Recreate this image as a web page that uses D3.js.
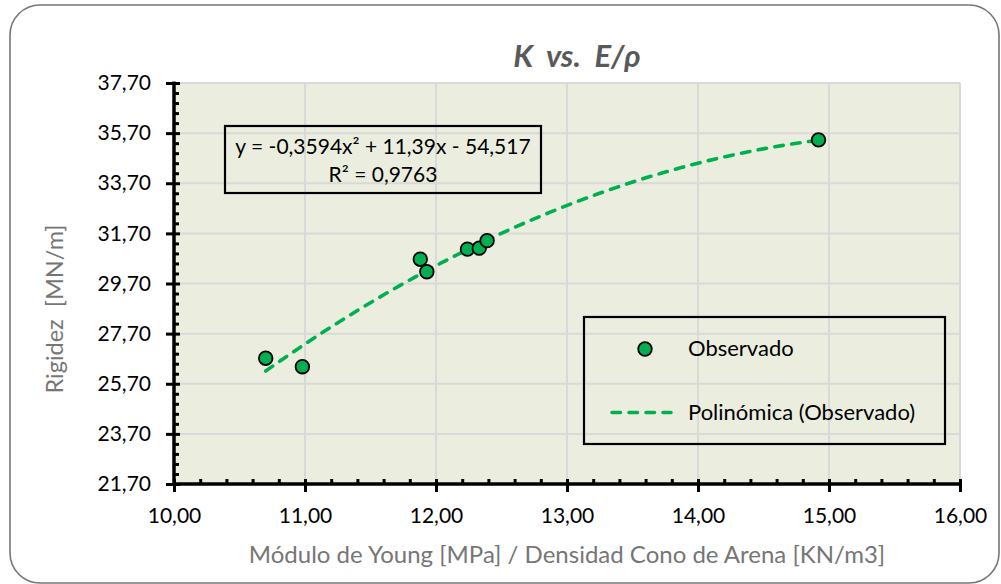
<!DOCTYPE html>
<html>
<head>
<meta charset="utf-8">
<script src="https://cdn.jsdelivr.net/npm/d3@7"></script>
<style>
  html, body { margin: 0; padding: 0; background: #ffffff; }
  svg text { font-family: Lato, "Open Sans", sans-serif; }
</style>
</head>
<body>
<svg id="chart" width="1001" height="584"></svg>
<script>
// Observed points: E/ρ [MPa / (KN/m3)] against stiffness K [MN/m]
const ratioValues = [10.70, 10.98, 11.88, 11.93, 12.24, 12.33, 12.39, 14.92];
const stiffnessValues = [26.72, 26.38, 30.67, 30.17, 31.07, 31.11, 31.41, 35.43];

// Second-order polynomial fit: y = a·x² + b·x + c
const fitCoefficients = [-0.3594, 11.39, -54.517];
const fitLabel = ["y = -0,3594x\u00B2 + 11,39x - 54,517", "R\u00B2 = 0,9763"];

// Axis ranges and tick labels
const xDomain = [10, 16];
const yDomain = [21.7, 37.7];
const xTickValues = [10, 11, 12, 13, 14, 15, 16];
const yTickValues = [21.7, 23.7, 25.7, 27.7, 29.7, 31.7, 33.7, 35.7, 37.7];

const titleText = "K  vs.  E/\u03C1";
const xTitle = "Módulo de Young [MPa] / Densidad Cono de Arena [KN/m3]";
const yTitle = "Rigidez  [MN/m]";
const legendLabels = ["Observado", "Polinómica (Observado)"];

const green = "#00B050";
const svg = d3.select("#chart");

const locale = d3.formatLocale({ decimal: ",", thousands: ".", grouping: [3], currency: ["", ""] });
const fmt = locale.format(".2f");

const plot = { left: 174, right: 960, top: 83, bottom: 484 };
const x = d3.scaleLinear().domain(xDomain).range([plot.left, plot.right]);
const y = d3.scaleLinear().domain(yDomain).range([plot.bottom, plot.top]);

// Outer chart frame
svg.append("rect")
  .attr("x", 10).attr("y", 5).attr("width", 989).attr("height", 578)
  .attr("rx", 30).attr("ry", 30)
  .attr("fill", "#ffffff").attr("stroke", "#767676").attr("stroke-width", 1.6);

// Plot background
svg.append("rect")
  .attr("x", plot.left).attr("y", plot.top)
  .attr("width", plot.right - plot.left).attr("height", plot.bottom - plot.top)
  .attr("fill", "#EBEEDF");

// Gridlines
const grid = svg.append("g").attr("stroke", "#D9D9D9").attr("stroke-width", 2);
grid.selectAll(".gx").data(xTickValues).join("line")
  .attr("x1", d => x(d)).attr("x2", d => x(d))
  .attr("y1", plot.top).attr("y2", plot.bottom);
grid.selectAll(".gy").data(yTickValues).join("line")
  .attr("x1", plot.left).attr("x2", plot.right)
  .attr("y1", d => y(d)).attr("y2", d => y(d));

// Minor ticks (inside the plot)
const xMinor = d3.range(0, 31).map(i => xDomain[0] + i * 0.2).filter(v => Math.abs(v - Math.round(v)) > 1e-6);
const yMinor = d3.range(0, 41).map(i => yDomain[0] + i * 0.4).filter(v => !yTickValues.some(t => Math.abs(t - v) < 1e-6));

const axisX = svg.append("g").attr("transform", `translate(0,${plot.bottom})`)
  .call(d3.axisBottom(x).tickValues(xMinor).tickSizeInner(-5).tickSizeOuter(0).tickFormat(""));
axisX.selectAll("line").attr("stroke", "#000").attr("stroke-width", 3);
axisX.select(".domain").remove();

const axisY = svg.append("g").attr("transform", `translate(${plot.left},0)`)
  .call(d3.axisLeft(y).tickValues(yMinor).tickSizeInner(-5).tickSizeOuter(0).tickFormat(""));
axisY.selectAll("line").attr("stroke", "#000").attr("stroke-width", 3);
axisY.select(".domain").remove();

// Major ticks with labels
const majorX = svg.append("g").attr("transform", `translate(0,${plot.bottom})`)
  .call(d3.axisBottom(x).tickValues(xTickValues).tickSize(8).tickPadding(16).tickFormat(fmt));
majorX.select(".domain").remove();
majorX.selectAll("line").attr("stroke", "#000").attr("stroke-width", 3).attr("y1", -5);
majorX.selectAll("text").attr("font-size", 21).attr("fill", "#000");

const majorY = svg.append("g").attr("transform", `translate(${plot.left},0)`)
  .call(d3.axisLeft(y).tickValues(yTickValues).tickSize(8).tickPadding(15).tickFormat(fmt));
majorY.select(".domain").remove();
majorY.selectAll("line").attr("stroke", "#000").attr("stroke-width", 3).attr("x1", 6);
majorY.selectAll("text").attr("font-size", 21).attr("fill", "#000");

// Axis lines
svg.append("line")
  .attr("x1", plot.left).attr("x2", plot.right + 1.5)
  .attr("y1", plot.bottom).attr("y2", plot.bottom)
  .attr("stroke", "#000").attr("stroke-width", 3.5);
svg.append("line")
  .attr("x1", plot.left).attr("x2", plot.left)
  .attr("y1", plot.top - 1.5).attr("y2", plot.bottom + 1.5)
  .attr("stroke", "#000").attr("stroke-width", 3.5);

// Trendline from the fitted polynomial across the observed range
const [a, b, c] = fitCoefficients;
const xExtent = d3.extent(ratioValues);
const curveXs = d3.range(0, 61).map(i => xExtent[0] + (xExtent[1] - xExtent[0]) * i / 60);
const line = d3.line().x(d => x(d)).y(d => y(a * d * d + b * d + c));
svg.append("path")
  .datum(curveXs)
  .attr("d", line)
  .attr("fill", "none").attr("stroke", green).attr("stroke-width", 3.6)
  .attr("stroke-linecap", "round").attr("stroke-dasharray", "8.5,8.5");

// Observed points
svg.append("g").selectAll("circle")
  .data(ratioValues.map((v, i) => [v, stiffnessValues[i]]))
  .join("circle")
  .attr("cx", d => x(d[0])).attr("cy", d => y(d[1])).attr("r", 6.8)
  .attr("fill", green).attr("stroke", "#000").attr("stroke-width", 1.8);

// Equation label
svg.append("rect")
  .attr("x", 225).attr("y", 126).attr("width", 316).attr("height", 67)
  .attr("fill", "none").attr("stroke", "#000").attr("stroke-width", 2.2);
svg.append("text").attr("x", 383).attr("y", 153.5).attr("text-anchor", "middle")
  .attr("font-size", 21).attr("fill", "#000").text(fitLabel[0]);
svg.append("text").attr("x", 383).attr("y", 182).attr("text-anchor", "middle")
  .attr("font-size", 21).attr("fill", "#000").text(fitLabel[1]);

// Legend
const legend = svg.append("g");
legend.append("rect")
  .attr("x", 584).attr("y", 317).attr("width", 361).attr("height", 127)
  .attr("fill", "none").attr("stroke", "#000").attr("stroke-width", 2.2);
legend.append("circle").attr("cx", 645).attr("cy", 349).attr("r", 6.8)
  .attr("fill", green).attr("stroke", "#000").attr("stroke-width", 1.8);
legend.append("line").attr("x1", 612).attr("x2", 671).attr("y1", 412.5).attr("y2", 412.5)
  .attr("stroke", green).attr("stroke-width", 3.6)
  .attr("stroke-linecap", "round").attr("stroke-dasharray", "8.5,8.5");
legend.append("text").attr("x", 688).attr("y", 356).attr("font-size", 22).attr("fill", "#000").text(legendLabels[0]);
legend.append("text").attr("x", 688).attr("y", 419.5).attr("font-size", 22).attr("fill", "#000").text(legendLabels[1]);

// Titles
svg.append("text").attr("x", 577).attr("y", 67).attr("text-anchor", "middle")
  .attr("font-size", 31).attr("font-weight", "bold").attr("font-style", "italic")
  .attr("fill", "#595959").style("white-space", "pre").text(titleText);
svg.append("text").attr("x", 567).attr("y", 563).attr("text-anchor", "middle")
  .attr("font-size", 24).attr("fill", "#767676").text(xTitle);
svg.append("text").attr("transform", "translate(63,309) rotate(-90)").attr("text-anchor", "middle")
  .attr("font-size", 23.5).attr("fill", "#767676").style("white-space", "pre").text(yTitle);
</script>
</body>
</html>
